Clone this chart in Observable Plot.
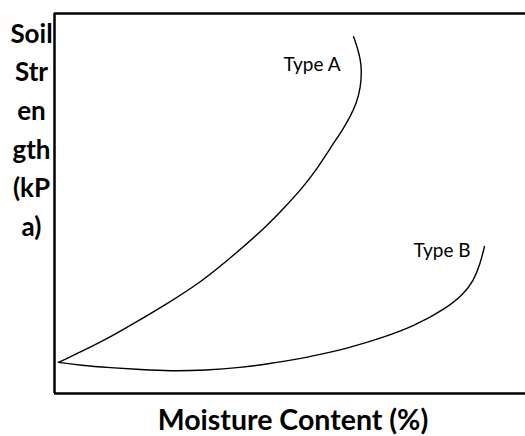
<!DOCTYPE html>
<html>
<head>
<meta charset="utf-8">
<script src="https://cdn.jsdelivr.net/npm/d3@7"></script>
<script src="https://cdn.jsdelivr.net/npm/@observablehq/plot@0.6"></script>
<style>
  html, body { margin: 0; padding: 0; background: #fff; }
  #chart svg { display: block; }
</style>
</head>
<body>
<div id="chart"></div>
<script>
// Curve values (moisture %, strength), in 0-100 relative units
const typeAX = [0.85, 9.8, 16.8, 24.0, 31.0, 38.0, 45.2, 48.6, 52.2, 55.8, 59.2, 61.1, 62.8, 64.1, 65.0, 65.2, 65.0, 64.3, 63.5];
const typeAY = [8.2, 13.4, 18.4, 23.7, 29.2, 36.3, 44.2, 48.7, 53.4, 59.2, 65.8, 69.2, 72.9, 76.3, 80.5, 85.0, 87.6, 91.1, 93.9];
const typeBX = [0.85, 5.5, 11.9, 18.3, 24.6, 32.1, 39.5, 45.9, 51.0, 56.5, 62.8, 69.2, 76.2, 83.4, 86.8, 89.0, 90.4, 91.3];
const typeBY = [8.2, 7.4, 6.8, 6.3, 5.9, 6.1, 6.8, 7.9, 8.9, 10.3, 12.1, 14.5, 17.6, 22.6, 26.1, 29.7, 34.2, 38.7];

const seriesNames = ["Type A", "Type B"];
const labelX = [48.6, 76.2];
const labelY = [86.6, 37.6];

const xTitle = "Moisture Content (%)";
const yTitleLines = ["Soil", "Str", "en", "gth", "(kP", "a)"];

const lineData = [
  ...typeAX.map((x, i) => ({series: seriesNames[0], x, y: typeAY[i]})),
  ...typeBX.map((x, i) => ({series: seriesNames[1], x, y: typeBY[i]}))
];
const labelData = seriesNames.map((s, i) => ({s, x: labelX[i], y: labelY[i]}));

const chart = Plot.plot({
  width: 525,
  height: 436,
  marginLeft: 54,
  marginRight: 0,
  marginTop: 13,
  marginBottom: 43,
  style: {fontFamily: "Lato, sans-serif", background: "#fff", color: "#000"},
  x: {domain: [0, 100], axis: null},
  y: {domain: [0, 100], axis: null},
  marks: [
    Plot.ruleY([0, 100], {stroke: "#000", strokeWidth: 2.5}),
    Plot.ruleX([0], {stroke: "#000", strokeWidth: 2.5}),
    Plot.line(lineData, {x: "x", y: "y", z: "series", curve: "basis", stroke: "#000", strokeWidth: 1.4}),
    Plot.text(labelData, {x: "x", y: "y", text: "s", textAnchor: "start", lineAnchor: "middle", fontSize: 19, fill: "#000"}),
    Plot.text([yTitleLines.join("\n")], {frameAnchor: "top-left", dx: -23, dy: 1.5, textAnchor: "middle", lineAnchor: "top", lineHeight: 1.49, fontSize: 26, fontWeight: "bold", fill: "#000"}),
    Plot.text([xTitle], {frameAnchor: "bottom", dx: 3, dy: 16, lineAnchor: "top", fontSize: 28.5, fontWeight: "bold", fill: "#000"})
  ]
});
document.getElementById("chart").appendChild(chart);
</script>
</body>
</html>
